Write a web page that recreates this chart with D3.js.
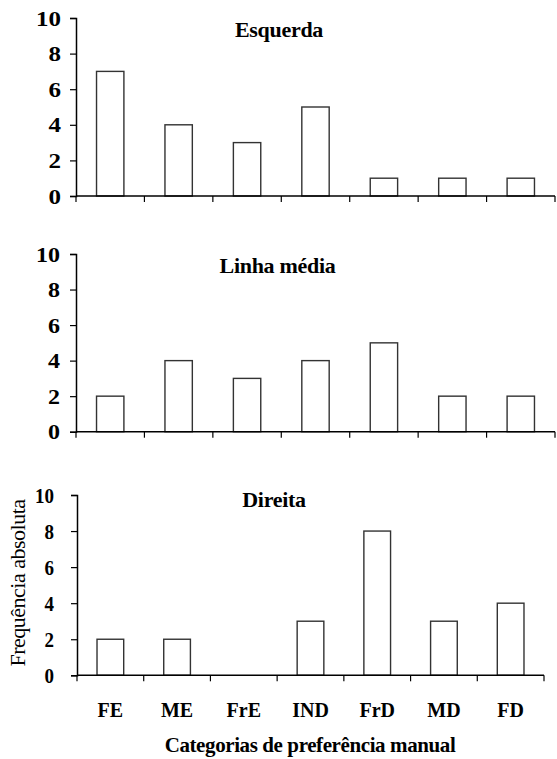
<!DOCTYPE html>
<html><head><meta charset="utf-8">
<script src="https://cdn.jsdelivr.net/npm/d3@7"></script>
</head><body style="margin:0;background:#fff">
<svg id="chart" width="557" height="759" style="display:block" font-family="Liberation Serif"><text id="t0" x="279" y="37" text-anchor="middle" font-family="Liberation Serif" font-size="22" font-weight="bold" letter-spacing="-0.3">Esquerda</text></svg>
<script>
const categories = ["FE","ME","FrE","IND","FrD","MD","FD"];
const panelTitles = ["Esquerda","Linha média","Direita"];
const esquerda = [7,4,3,5,1,1,1];
const linhaMedia = [2,4,3,4,5,2,2];
const direita = [2,2,0,3,8,3,4];
const yTicks = [0,2,4,6,8,10];
const yTitle = "Frequência absoluta";
const xTitle = "Categorias de preferência manual";

const series = [esquerda, linhaMedia, direita];
const FF = "Liberation Serif";
const svg = d3.select("#chart");

const layout = [
  {x0:76, x1:555, y0:196, y1:18, tx:279, ty:37, lblScale:1.25, lblEnd:61},
  {x0:76, x1:555, y0:431.7, y1:254, tx:277.5, ty:272.5, lblScale:1.2, lblEnd:60},
  {x0:77, x1:544, y0:675.3, y1:495, tx:274, ty:506.5, lblScale:0.95, lblEnd:54}
];

series.forEach((vals, i) => {
  const L = layout[i];
  const x = d3.scaleBand().domain(categories).range([L.x0, L.x1])
    .paddingInner(0.6).paddingOuter(0.3);
  const y = d3.scaleLinear().domain([0,10]).range([L.y0, L.y1]);
  const g = svg.append("g");

  g.selectAll("rect.bar").data(vals.map((v,k)=>({c:categories[k], v})).filter(d=>d.v>0))
    .join("rect").attr("class","bar")
    .attr("x", d => x(d.c)).attr("width", x.bandwidth())
    .attr("y", d => y(d.v)).attr("height", d => y(0) - y(d.v))
    .attr("fill", "#fff").attr("stroke", "#333").attr("stroke-width", 1.4);

  const pad = L.x0 - 6 - L.lblEnd;
  const ya = g.append("g").attr("transform", `translate(${L.x0},0)`)
    .call(d3.axisLeft(y).tickValues(yTicks).tickSize(6).tickPadding(pad).tickFormat(d3.format("d")));
  ya.attr("font-family", FF).attr("font-size", 20);
  ya.select(".domain").attr("stroke","#000").attr("stroke-width",1.5);
  ya.selectAll(".tick line").attr("stroke","#000").attr("stroke-width",1.2);
  const ax = -(6 + pad);
  ya.selectAll(".tick text").attr("font-family", FF).attr("font-size", 20)
    .attr("font-weight","bold").attr("fill","#000").attr("dy","0.35em")
    .attr("transform", `translate(${ax},0) scale(${L.lblScale},1) translate(${-ax},0)`);

  const step = x.step();
  const bounds = d3.range(categories.length + 1).map(k => L.x0 + k * step);
  g.append("line").attr("x1", L.x0).attr("x2", L.x1).attr("y1", y(0)).attr("y2", y(0))
    .attr("stroke","#000").attr("stroke-width",1.5);
  g.selectAll("line.xt").data(bounds).join("line").attr("class","xt")
    .attr("x1", d=>d).attr("x2", d=>d).attr("y1", y(0)).attr("y2", y(0)+6)
    .attr("stroke","#000").attr("stroke-width",1.2);

  if (i > 0) {
    g.append("text").attr("x", L.tx).attr("y", L.ty).attr("text-anchor","middle")
      .attr("font-family", FF).attr("font-size", 22).attr("font-weight","bold")
      .attr("letter-spacing", -0.3)
      .text(panelTitles[i]);
  }

  if (i === 2) {
    g.selectAll("text.cat").data(categories).join("text").attr("class","cat")
      .attr("x", d => x(d) + x.bandwidth()/2).attr("y", 716.5)
      .attr("text-anchor","middle").attr("font-family", FF)
      .attr("font-size", 20).attr("font-weight","bold")
      .text(d => d);
    g.append("text").attr("x", 310).attr("y", 751.5).attr("text-anchor","middle")
      .attr("font-family", FF).attr("font-size", 21).attr("font-weight","bold")
      .attr("letter-spacing", -0.4)
      .text(xTitle);
    g.append("text").attr("transform", `translate(25,583) rotate(-90)`)
      .attr("text-anchor","middle").attr("font-family", FF).attr("font-size", 22)
      .attr("letter-spacing", -0.5)
      .text(yTitle);
  }
});
</script>
</body></html>
